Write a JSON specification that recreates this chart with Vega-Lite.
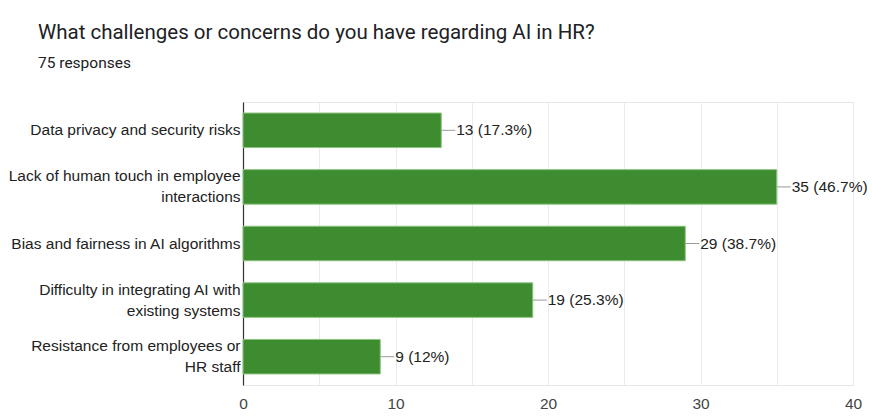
{
  "$schema": "https://vega.github.io/schema/vega-lite/v6.json",
  "width": 610,
  "height": 283,
  "padding": {"left": 0, "top": 23, "right": 0, "bottom": 0},
  "background": "white",
  "title": {
    "text": "What challenges or concerns do you have regarding AI in HR?",
    "subtitle": "75 responses",
    "anchor": "start",
    "frame": "group",
    "dx": -205,
    "font": "Roboto",
    "fontSize": 20.5,
    "fontWeight": "normal",
    "color": "#202124",
    "subtitleFont": "Roboto",
    "subtitleFontSize": 15.5,
    "subtitleColor": "#202124",
    "subtitlePadding": 12,
    "offset": 31
  },
  "data": {
    "values": [
      {"challenge": "Data privacy and security risks", "count": 13, "label": "13 (17.3%)"},
      {"challenge": "Lack of human touch in employee interactions", "count": 35, "label": "35 (46.7%)"},
      {"challenge": "Bias and fairness in AI algorithms", "count": 29, "label": "29 (38.7%)"},
      {"challenge": "Difficulty in integrating AI with existing systems", "count": 19, "label": "19 (25.3%)"},
      {"challenge": "Resistance from employees or HR staff", "count": 9, "label": "9 (12%)"}
    ]
  },
  "encoding": {
    "y": {
      "field": "challenge",
      "type": "nominal",
      "sort": null,
      "title": null,
      "scale": {"paddingInner": 0.39, "paddingOuter": 0.195},
      "axis": {
        "ticks": false,
        "domain": true,
        "domainColor": "#333333",
        "domainWidth": 1.2,
        "grid": false,
        "labelFont": "Liberation Sans",
        "labelFontSize": 15.5,
        "labelColor": "#222222",
        "labelPadding": 3,
        "labelLimit": 400,
        "labelLineHeight": 21,
        "labelOffset": {"condition": {"test": "length(datum.value) > 35", "value": -10.5}, "value": 0},
        "minExtent": 243,
        "maxExtent": 243,
        "labelExpr": "datum.value == 'Lack of human touch in employee interactions' ? ['Lack of human touch in employee', 'interactions'] : datum.value == 'Difficulty in integrating AI with existing systems' ? ['Difficulty in integrating AI with', 'existing systems'] : datum.value == 'Resistance from employees or HR staff' ? ['Resistance from employees or', 'HR staff'] : datum.label"
      }
    },
    "x": {
      "field": "count",
      "type": "quantitative",
      "title": null,
      "scale": {"domain": [0, 40], "nice": false},
      "axis": {
        "values": [0, 5, 10, 15, 20, 25, 30, 35, 40],
        "labelExpr": "datum.value % 10 == 0 ? datum.label : ''",
        "labelFlush": false,
        "ticks": false,
        "domain": false,
        "grid": true,
        "gridColor": "#ebebeb",
        "gridWidth": 1,
        "labelFont": "Liberation Sans",
        "labelFontSize": 15.5,
        "labelColor": "#444444",
        "labelPadding": 11
      }
    }
  },
  "layer": [
    {
      "mark": {"type": "bar", "color": "#3d8c30", "stroke": "#8cc47f", "strokeWidth": 1}
    },
    {
      "mark": {"type": "rule", "color": "#9a9a9a", "strokeWidth": 1, "x2Offset": 14},
      "encoding": {"x2": {"field": "count"}}
    },
    {
      "mark": {"type": "text", "align": "left", "baseline": "middle", "dx": 15, "font": "Liberation Sans", "fontSize": 15.5, "color": "#222222"},
      "encoding": {"text": {"field": "label"}}
    }
  ],
  "config": {
    "view": {"stroke": "#e6e6e6", "strokeWidth": 1}
  }
}
